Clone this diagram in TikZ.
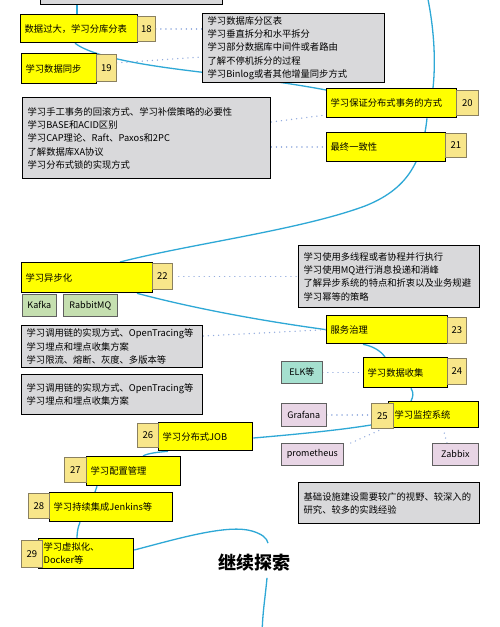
\documentclass[tikz,border=0pt]{standalone}
\usepackage{fontspec}
\setmainfont{Noto Sans CJK SC}
\usetikzlibrary{calc}
\definecolor{yfill}{HTML}{FFFF00}
\definecolor{nfill}{HTML}{F8E68A}
\definecolor{nline}{HTML}{8A8060}
\definecolor{gfill}{HTML}{D9D9DB}
\definecolor{greenfill}{HTML}{C5DFB0}
\definecolor{tealfill}{HTML}{A5E0CF}
\definecolor{pinkfill}{HTML}{E8D5E5}
\definecolor{tline}{HTML}{606060}
\definecolor{linkblue}{HTML}{2EA8D6}
\definecolor{dotblue}{HTML}{92ABDE}
\pgfdeclarelayer{bg}
\pgfsetlayers{bg,main}
\tikzset{
  ybox/.style={draw=black, line width=1.3pt, fill=yfill, anchor=north west, inner xsep=4pt, inner ysep=0pt, align=left, font=\fontsize{9.3}{13}\selectfont},
  nbox/.style={draw=nline, line width=0.7pt, fill=nfill, anchor=north west, inner sep=0pt, align=center, font=\fontsize{9.5}{11}\selectfont},
  gbox/.style={draw=black, line width=1.3pt, fill=gfill, anchor=north west, inner xsep=5pt, inner ysep=0pt, align=left, font=\fontsize{9.3}{13.3}\selectfont},
  tagbox/.style={draw=tline, line width=0.7pt, anchor=north west, inner sep=0pt, align=center, font=\fontsize{9}{11}\selectfont},
  boxsize/.style n args={3}{minimum width=#1, minimum height=#2, text width=#3},
  dims/.style 2 args={minimum width=#1, minimum height=#2},
  link/.style={draw=linkblue, line width=1.3pt},
  dotlink/.style={draw=dotblue, line width=1.4pt, dash pattern=on 0.1pt off 5pt, line cap=round},
}
\begin{document}
\begin{tikzpicture}[x=1pt,y=-1pt]
\useasboundingbox (0,0) rectangle (500,627);
\clip (0,0) rectangle (500,627);

% gray boxes
\node[gbox, boxsize={182pt}{34pt}{172pt}] (gtop) at (40,-30) {};
\node[gbox, boxsize={182pt}{69pt}{172pt}] (g1) at (202,13) {学习数据库分区表\\学习垂直拆分和水平拆分\\学习部分数据库中间件或者路由\\了解不停机拆分的过程\\学习Binlog或者其他增量同步方式};
\node[gbox, boxsize={248pt}{81pt}{238pt}] (g2) at (22,97) {学习手工事务的回滚方式、学习补偿策略的必要性\\学习BASE和ACID区别\\学习CAP理论、Raft、Paxos和2PC\\了解数据库XA协议\\学习分布式锁的实现方式};
\node[gbox, boxsize={181pt}{62pt}{171pt}] (g3) at (298,245) {学习使用多线程或者协程并行执行\\学习使用MQ进行消息投递和消峰\\了解异步系统的特点和折衷以及业务规避\\学习幂等的策略};
\node[gbox, boxsize={181pt}{42pt}{171pt}] (g4) at (21,325) {学习调用链的实现方式、OpenTracing等\\学习埋点和埋点收集方案\\学习限流、熔断、灰度、多版本等};
\node[gbox, boxsize={181pt}{40pt}{171pt}] (g5) at (21,374) {学习调用链的实现方式、OpenTracing等\\学习埋点和埋点收集方案};
\node[gbox, boxsize={181pt}{41pt}{171pt}] (g6) at (298,482) {基础设施建设需要较广的视野、较深入的\\研究、较多的实践经验};

% yellow topic boxes with number tags
\node[ybox, boxsize={117pt}{28pt}{109pt}] (y18) at (20,14) {数据过大，学习分库分表};
\node[nbox, dims={18pt}{25pt}] (n18) at (137,16) {18};
\node[ybox, boxsize={75pt}{30pt}{67pt}] (y19) at (21,53) {学习数据同步};
\node[nbox, dims={20pt}{27pt}] (n19) at (96,54) {19};
\node[ybox, boxsize={130pt}{29pt}{122pt}] (y20) at (326,88) {学习保证分布式事务的方式};
\node[nbox, dims={22pt}{25pt}] (n20) at (456,90) {20};
\node[ybox, boxsize={119pt}{29pt}{111pt}] (y21) at (326,132) {最终一致性};
\node[nbox, dims={21pt}{24pt}] (n21) at (445,133) {21};
\node[ybox, boxsize={131pt}{30pt}{123pt}] (y22) at (21,262) {学习异步化};
\node[nbox, dims={20pt}{26pt}] (n22) at (152,263) {22};
\node[ybox, boxsize={121pt}{28pt}{113pt}] (y23) at (326,315) {服务治理};
\node[nbox, dims={19pt}{26pt}] (n23) at (447,317) {23};
\node[ybox, boxsize={84pt}{30pt}{76pt}] (y24) at (363,357) {学习数据收集};
\node[nbox, dims={19pt}{26pt}] (n24) at (447,358) {24};
\node[ybox, inner xsep=6pt, boxsize={90pt}{26pt}{78pt}] (y25) at (388,401) {学习监控系统};
\node[nbox, dims={22pt}{25pt}] (n25) at (371,403) {25};
\node[ybox, boxsize={94pt}{28pt}{86pt}] (y26) at (158,422) {学习分布式JOB};
\node[nbox, dims={21pt}{24pt}] (n26) at (137,423) {26};
\node[ybox, boxsize={94pt}{29pt}{86pt}] (y27) at (86,456) {学习配置管理};
\node[nbox, dims={22pt}{25pt}] (n27) at (64,457) {27};
\node[ybox, boxsize={123pt}{29pt}{115pt}] (y28) at (49,492) {学习持续集成Jenkins等};
\node[nbox, dims={21pt}{25pt}] (n28) at (28,493) {28};
\node[ybox, inner xsep=5pt, boxsize={95pt}{30pt}{85pt}] (y29) at (38,538) {学习虚拟化、\\Docker等};
\node[nbox, dims={21pt}{27pt}] (n29) at (21,540) {29};

% tag boxes
\node[tagbox, fill=greenfill, dims={34pt}{22pt}] (kafka) at (22,294) {Kafka};
\node[tagbox, fill=greenfill, dims={54pt}{22pt}] (rabbit) at (63,294) {RabbitMQ};
\node[tagbox, fill=tealfill, dims={41pt}{22pt}] (elk) at (281,361) {ELK等};
\node[tagbox, fill=pinkfill, dims={45pt}{23pt}] (grafana) at (281,403) {Grafana};
\node[tagbox, fill=pinkfill, dims={62pt}{22pt}] (prom) at (281,443) {prometheus};
\node[tagbox, fill=pinkfill, dims={46pt}{22pt}] (zabbix) at (432,443) {Zabbix};

% title
\node[font=\fontsize{18}{20}\bfseries, inner sep=6pt] (title) at (254,563) {继续探索};

\coordinate (arctop) at (426,-10);
\coordinate (bottom) at (262,640);

\begin{pgfonlayer}{bg}
\fill[white] (0,0) rectangle (500,627);
\draw[link] ([xshift=37pt]gtop.south west) -- ([xshift=57pt]y18.north west);
\draw[link] ([xshift=55pt]y18.south west) .. controls (95,58) and (150,66) .. (200,72) .. controls (260,79) and (300,85) .. ([yshift=-2pt]y20.north west);
\draw[link] (arctop) .. controls (434,25) and (436,60) .. ([xshift=107pt]y20.north west);
\draw[link] ([xshift=101pt]y20.south west) .. controls (422,165) and (405,190) .. (365,206) .. controls (300,230) and (190,244) .. ([xshift=99pt]y22.north west);
\draw[link] ([xshift=116pt]y22.south west) .. controls (200,310) and (270,322) .. (y23.west);
\draw[link] ([xshift=37pt]y23.south west) .. controls (372,346) and (380,350) .. ([xshift=22pt]y24.north west);
\draw[link] ([xshift=48pt]y24.south west) .. controls (414,393) and (413,397) .. ([xshift=23pt]y25.north west);
\draw[link] ([yshift=-16pt]y26.north east) .. controls (300,434) and (340,430) .. ([yshift=-22pt]n25.north west);
\draw[link] ([xshift=10pt]y26.south west) .. controls (160,452) and (148,453) .. ([xshift=57pt]y27.north west);
\draw[link] ([xshift=11pt]y27.south west) -- ([xshift=46pt]y28.north west);
\draw[link] ([xshift=31pt]y28.south west) .. controls (78,527) and (77,532) .. ([xshift=39pt]y29.north west);
\draw[link] ([yshift=-12pt]y29.north east) .. controls (180,538) and (228,524) .. (252,531) .. controls (262,534) and (267,538) .. ([xshift=14pt,yshift=5pt]title.north);
\draw[link] ([xshift=13pt]title.south) .. controls (265,600) and (262,615) .. (bottom);

\draw[dotlink] (n18.east) -- (n18.east -| g1.west);
\draw[dotlink] ([yshift=5pt]n19.east) -- ([yshift=-44pt]g1.north west);
\draw[dotlink] ([yshift=-25pt]g2.north east) -- ([yshift=-27pt]y20.north west);
\draw[dotlink] (g2.east |- y21.west) -- (y21.west);
\draw[dotlink] ([xshift=6pt]n22.east) -- (n22.east -| g3.west);
\draw[dotlink] ([yshift=-11pt]g4.north east) -- (y23.west);
\draw[dotlink] (elk.east) -- (elk.east -| y24.west);
\draw[dotlink] (grafana.east) -- (grafana.east -| n25.west);
\draw[dotlink] ([xshift=7pt]prom.north east) -- ([xshift=12pt]n25.south west);
\draw[dotlink] ([xshift=15pt]zabbix.north west) -- ([xshift=55pt]y25.south west);
\end{pgfonlayer}
\end{tikzpicture}
\end{document}
